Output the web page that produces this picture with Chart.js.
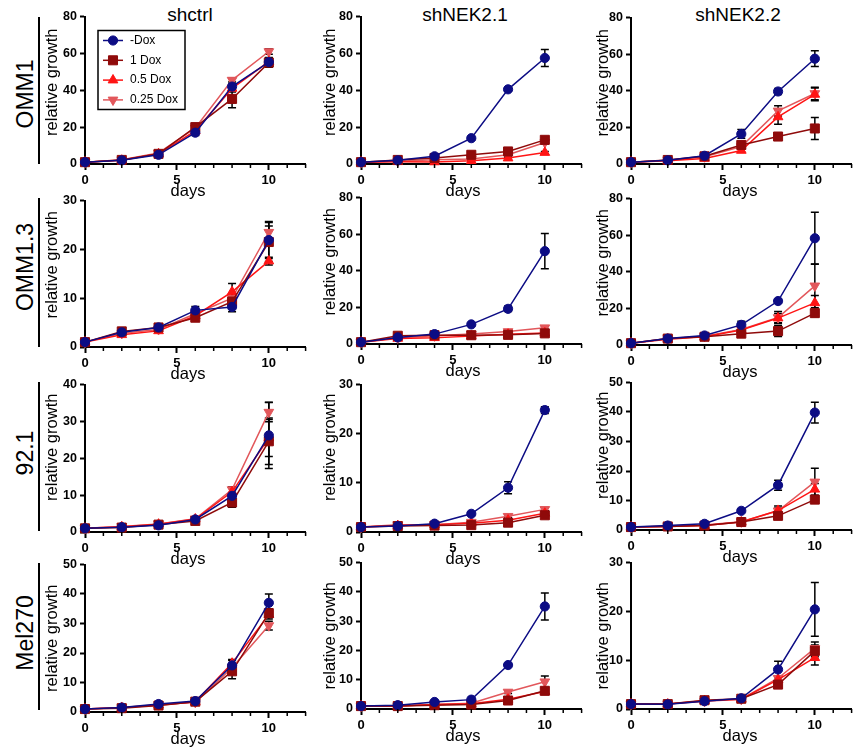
<!DOCTYPE html>
<html><head><meta charset="utf-8">
<script src="https://cdn.jsdelivr.net/npm/chart.js@4.4.0/dist/chart.umd.min.js"></script>
<style>
html,body{margin:0;padding:0;background:#fff;}
#wrap{position:relative;width:862px;height:749px;background:#fff;overflow:hidden;font-family:'Liberation Sans',Arial,sans-serif;}
canvas{position:absolute;}
.coltitle{position:absolute;font-size:19px;color:#000;transform:translateX(-50%);white-space:nowrap;line-height:1;}
.rowlabel{position:absolute;font-size:23px;color:#000;white-space:nowrap;line-height:1;transform:translate(-50%,-50%) rotate(-90deg);}
.vline{position:absolute;width:2px;background:#000;}
</style></head>
<body><div id="wrap"></div>
<script>
// ---------------- DATA ----------------
const days = [0, 2, 4, 6, 8, 10];
const seriesNames = ['-Dox', '1 Dox', '0.5 Dox', '0.25 Dox'];
const cellLines = ['OMM1', 'OMM1.3', '92.1', 'Mel270'];
const constructs = ['shctrl', 'shNEK2.1', 'shNEK2.2'];
const xTickLabels = [0, 5, 10];
const yMaxes = [[80, 80, 80], [30, 80, 80], [40, 30, 50], [50, 50, 30]];
const yStepSizes = [[20, 20, 20], [10, 20, 20], [10, 10, 10], [10, 10, 10]];

// each panel: rows = -Dox, 1 Dox, 0.5 Dox, 0.25 Dox ; columns = days
const omm1_shctrl = [
  [1, 2, 5, 17, 42, 55.3],
  [1, 2.2, 5.5, 20, 35.3, 55],
  [1, 2, 5.5, 18, 41, 55.5],
  [1, 2.3, 6, 19.5, 45.5, 61]];
const omm1_shctrl_err = [
  [0, 0.3, 0.5, 1.5, 1.5, 2.5],
  [0, 0.3, 0.5, 2, 4.8, 2.5],
  [0, 0.3, 0.5, 1.5, 2, 2],
  [0, 0.3, 0.5, 1.5, 1, 1.5]];
const omm1_shNEK21 = [
  [1, 2, 4.2, 14, 40.5, 57.5],
  [1, 2.2, 3.3, 5, 6.8, 13.1],
  [1, 1.2, 1.1, 1.8, 3.2, 6.2],
  [1, 1.5, 2.3, 2.7, 5, 11.7]];
const omm1_shNEK21_err = [
  [0, 0.2, 0.5, 0.8, 1, 4.6],
  [0, 0.2, 0.3, 0.5, 0.5, 1],
  [0, 0.1, 0.2, 0.3, 0.4, 0.6],
  [0, 0.2, 0.3, 0.4, 0.5, 0.8]];
const omm1_shNEK22 = [
  [1, 2, 4.5, 16.4, 39.6, 57.5],
  [1, 2.2, 4.2, 10.4, 15, 19.4],
  [1, 1.8, 3, 7.4, 25.7, 38],
  [1, 2, 4, 9.5, 29, 38.5]];
const omm1_shNEK22_err = [
  [0, 0.3, 0.5, 2.4, 1.6, 4.3],
  [0, 0.3, 0.5, 1, 0.8, 6],
  [0, 0.3, 0.5, 0.8, 4, 3.5],
  [0, 0.3, 0.5, 0.8, 2.8, 3.4]];

const omm13_shctrl = [
  [1, 3, 4, 7.5, 8.2, 21.9],
  [1, 3.2, 4, 6, 9.3, 21.5],
  [1, 2.5, 3.3, 6.4, 11.3, 17.6],
  [1, 2.8, 3.6, 6.8, 10, 23.5]];
const omm13_shctrl_err = [
  [0, 0.3, 0.5, 0.8, 1, 3.8],
  [0, 0.3, 0.5, 0.5, 1, 4],
  [0, 0.3, 0.3, 0.5, 1.7, 0.8],
  [0, 0.3, 0.3, 0.5, 1, 1.3]];
const omm13_shNEK21 = [
  [1, 3.6, 5.4, 10.7, 19.2, 50.7],
  [1, 4.5, 4.8, 4.8, 5, 5.8],
  [1, 3, 3.4, 4.3, 5.3, 6],
  [1, 3.4, 4.5, 5.5, 6.8, 8.9]];
const omm13_shNEK21_err = [
  [0, 0.3, 0.5, 0.8, 1.5, 9.6],
  [0, 0.3, 0.3, 0.4, 0.5, 0.6],
  [0, 0.3, 0.3, 0.4, 0.5, 0.6],
  [0, 0.3, 0.3, 0.4, 0.5, 0.8]];
const omm13_shNEK22 = [
  [1, 3.5, 5.2, 11, 24, 58.3],
  [1, 3.5, 4.5, 6.2, 7.6, 17.4],
  [1, 3.2, 4.5, 8.2, 14.7, 23],
  [1, 3.6, 4.8, 8.5, 15, 32.3]];
const omm13_shNEK22_err = [
  [0, 0.6, 0.8, 2, 1, 14.2],
  [0, 0.5, 0.5, 0.5, 3, 2],
  [0, 0.5, 0.5, 0.8, 2.5, 4],
  [0, 0.5, 0.5, 0.8, 3.3, 12]];

const c921_shctrl = [
  [1, 1.3, 1.8, 3.4, 9.8, 26.2],
  [1, 1.2, 2, 3, 8, 24.6],
  [1, 1.4, 2.1, 3.5, 10.9, 25.5],
  [1, 1.5, 2.2, 3.6, 11.5, 32.5]];
const c921_shctrl_err = [
  [0, 0.2, 0.3, 0.4, 2.2, 9],
  [0, 0.2, 0.3, 0.3, 1.3, 6.3],
  [0, 0.2, 0.3, 0.3, 1.3, 5],
  [0, 0.2, 0.3, 0.3, 0.8, 2.6]];
const c921_shNEK21 = [
  [1, 1.2, 1.7, 3.7, 9, 24.8],
  [1, 1.2, 1.3, 1.4, 1.9, 3.4],
  [1, 1.3, 1.5, 1.8, 2.4, 3.8],
  [1, 1.5, 1.5, 2, 3.2, 4.6]];
const c921_shNEK21_err = [
  [0, 0.1, 0.2, 0.3, 1.2, 0.7],
  [0, 0.1, 0.1, 0.2, 0.3, 0.6],
  [0, 0.1, 0.1, 0.2, 0.3, 0.5],
  [0, 0.1, 0.1, 0.2, 0.3, 0.4]];
const c921_shNEK22 = [
  [1, 1.5, 2.1, 6.5, 15.2, 39.8],
  [1, 1.2, 1.5, 2.7, 4.8, 10.3],
  [1, 1.2, 1.5, 2.7, 6.6, 13.8],
  [1, 1.3, 1.7, 2.8, 6.5, 16.3]];
const c921_shNEK22_err = [
  [0, 0.2, 0.3, 0.5, 1.7, 3.5],
  [0, 0.1, 0.2, 0.3, 0.5, 1.2],
  [0, 0.1, 0.2, 0.3, 1.5, 2],
  [0, 0.1, 0.2, 0.3, 1, 4.6]];

const mel270_shctrl = [
  [1, 1.5, 2.7, 3.7, 15.8, 37],
  [1, 1.3, 2.2, 3.5, 13.8, 33.5],
  [1, 1.5, 2.3, 3.5, 16.5, 33],
  [1, 1.5, 2.5, 3.3, 15, 29.3]];
const mel270_shctrl_err = [
  [0, 0.2, 0.3, 0.3, 2, 3],
  [0, 0.2, 0.3, 0.3, 2.5, 1.5],
  [0, 0.2, 0.3, 0.3, 1, 1.5],
  [0, 0.2, 0.3, 0.3, 1, 1.5]];
const mel270_shNEK21 = [
  [1, 1.3, 2.4, 3.2, 15, 35],
  [1, 1, 1.3, 1.5, 2.9, 6.2],
  [1, 1, 1.5, 1.8, 3.3, 6],
  [1, 1, 1.5, 2, 5.8, 9.3]];
const mel270_shNEK21_err = [
  [0, 0.2, 0.3, 0.3, 0.5, 4.6],
  [0, 0.1, 0.1, 0.2, 0.3, 1],
  [0, 0.1, 0.1, 0.2, 0.3, 0.8],
  [0, 0.1, 0.1, 0.2, 0.5, 2]];
const mel270_shNEK22 = [
  [1, 0.95, 1.6, 2.2, 8.1, 20.4],
  [1, 1, 1.8, 2.1, 5, 11.9],
  [1, 1, 1.7, 2, 6, 10.5],
  [1, 1, 1.6, 2, 6.3, 12.4]];
const mel270_shNEK22_err = [
  [0, 0.1, 0.2, 0.2, 1.7, 5.5],
  [0, 0.1, 0.2, 0.2, 0.5, 1.2],
  [0, 0.1, 0.2, 0.2, 0.5, 1.5],
  [0, 0.1, 0.2, 0.2, 0.5, 1.3]];

const panelMeans = [
  [omm1_shctrl, omm1_shNEK21, omm1_shNEK22],
  [omm13_shctrl, omm13_shNEK21, omm13_shNEK22],
  [c921_shctrl, c921_shNEK21, c921_shNEK22],
  [mel270_shctrl, mel270_shNEK21, mel270_shNEK22]];
const panelErrs = [
  [omm1_shctrl_err, omm1_shNEK21_err, omm1_shNEK22_err],
  [omm13_shctrl_err, omm13_shNEK21_err, omm13_shNEK22_err],
  [c921_shctrl_err, c921_shNEK21_err, c921_shNEK22_err],
  [mel270_shctrl_err, mel270_shNEK21_err, mel270_shNEK22_err]];

// ---------------- STYLE / LAYOUT ----------------
const FONT = "'Liberation Sans', Arial, sans-serif";
const seriesColors = ['#0c0c84', '#8f0a0a', '#ff1414', '#e2575b'];
const pointStyles = ['circle', 'rect', 'triangle', 'triangle'];
const pointRadii = [4.6, 6.4, 5.6, 5.6];
const pointRotations = [0, 0, 0, 180];

const colAxisX = [85, 361, 631];
const plotTop = [[16, 16, 17], [200, 197, 198], [384, 384, 382], [564, 562, 562]];
const plotBottom = [[164, 164, 164], [347, 344, 345], [532, 532, 530], [712, 709, 709]];
const yTitleDx = [33, 31, 28];
const yTitleDy = [-8, -9, -11, 0];
const xTitleDx = [103, 102, 109];
const colTitleX = [190, 465, 738];
const rowLabelY = [93.5, 266.5, 452.5, 632.5];
const rowLineSpan = [[17, 164], [198, 347], [382, 531], [563, 710]];

Chart.defaults.color = '#000';
Chart.defaults.font.family = FONT;

const wrap = document.getElementById('wrap');

constructs.forEach((t, c) => {
  const d = document.createElement('div');
  d.className = 'coltitle';
  d.textContent = t;
  d.style.left = colTitleX[c] + 'px';
  d.style.top = '5px';
  wrap.appendChild(d);
});
cellLines.forEach((t, r) => {
  const d = document.createElement('div');
  d.className = 'rowlabel';
  d.textContent = t;
  d.style.left = '25px';
  d.style.top = rowLabelY[r] + 'px';
  wrap.appendChild(d);
  const l = document.createElement('div');
  l.className = 'vline';
  l.style.left = '38px';
  l.style.top = rowLineSpan[r][0] + 'px';
  l.style.height = (rowLineSpan[r][1] - rowLineSpan[r][0]) + 'px';
  wrap.appendChild(l);
});

const errorBarPlugin = {
  id: 'errorBars',
  beforeDatasetsDraw(chart) {
    const ctx = chart.ctx, ys = chart.scales.y;
    ctx.save();
    ctx.strokeStyle = '#000';
    ctx.lineWidth = 1.5;
    chart.data.datasets.forEach((ds, i) => {
      const meta = chart.getDatasetMeta(i);
      ds.errors.forEach((e, j) => {
        if (!e) return;
        const pt = meta.data[j];
        const v = ds.data[j].y;
        const y1 = ys.getPixelForValue(v + e);
        const y2 = ys.getPixelForValue(Math.max(0, v - e));
        const x = pt.x;
        ctx.beginPath();
        ctx.moveTo(x, y1); ctx.lineTo(x, y2);
        ctx.moveTo(x - 4, y1); ctx.lineTo(x + 4, y1);
        ctx.moveTo(x - 4, y2); ctx.lineTo(x + 4, y2);
        ctx.stroke();
      });
    });
    ctx.restore();
  }
};

const minorTickPlugin = {
  id: 'minorTicks',
  afterDraw(chart) {
    const xs = chart.scales.x, a = chart.chartArea, ctx = chart.ctx;
    ctx.save();
    ctx.strokeStyle = '#000';
    ctx.lineWidth = 1.5;
    for (let v = xs.min; v <= xs.max; v++) {
      if (xTickLabels.includes(v)) continue;
      const px = xs.getPixelForValue(v);
      ctx.beginPath();
      ctx.moveTo(px, a.bottom);
      ctx.lineTo(px, a.bottom + 4);
      ctx.stroke();
    }
    ctx.restore();
  }
};

function axisTitlePlugin(r, c) {
  return {
    id: 'axisTitles',
    afterDraw(chart) {
      const {ctx, chartArea: a} = chart;
      ctx.save();
      ctx.fillStyle = '#000';
      ctx.font = '16.5px ' + FONT;
      ctx.textAlign = 'center';
      ctx.textBaseline = 'middle';
      ctx.fillText('days', a.left + xTitleDx[c], a.bottom + 27);
      ctx.translate(a.left - yTitleDx[c], (a.top + a.bottom) / 2 + yTitleDy[r]);
      ctx.rotate(-Math.PI / 2);
      ctx.fillText('relative growth', 0, 0);
      ctx.restore();
    }
  };
}

const legendPlugin = {
  id: 'boxLegend',
  afterDatasetsDraw(chart) {
    const {ctx, chartArea: a} = chart;
    const bx = a.left + 13, by = a.top + 14, bw = 87, bh = 79;
    ctx.save();
    ctx.fillStyle = '#fff';
    ctx.fillRect(bx, by, bw, bh);
    ctx.lineWidth = 1.5;
    ctx.strokeStyle = '#000';
    ctx.strokeRect(bx, by, bw, bh);
    chart.data.datasets.forEach((ds, i) => {
      const y = by + 10 + i * 19.8;
      ctx.strokeStyle = ds.borderColor;
      ctx.lineWidth = 1.5;
      ctx.beginPath();
      ctx.moveTo(bx + 5, y); ctx.lineTo(bx + 25, y);
      ctx.stroke();
      ctx.fillStyle = ds.backgroundColor;
      ctx.lineWidth = 1;
      Chart.helpers.drawPoint(ctx, {pointStyle: ds.pointStyle, radius: ds.pointRadius, rotation: ds.pointRotation, borderWidth: 1}, bx + 15, y);
      ctx.fillStyle = '#000';
      ctx.font = '12px ' + FONT;
      ctx.textAlign = 'left';
      ctx.textBaseline = 'middle';
      ctx.fillText(ds.label, bx + 32, y);
    });
    ctx.restore();
  }
};

function makeChart(r, c) {
  const W = 48, H = 40, PT = 10, PR = 6, plotW = 222;
  const L = colAxisX[c], T = plotTop[r][c], B = plotBottom[r][c];
  const cv = document.createElement('canvas');
  cv.width = W + plotW + PR;
  cv.height = PT + (B - T) + H;
  cv.style.left = (L - W) + 'px';
  cv.style.top = (T - PT) + 'px';
  wrap.appendChild(cv);
  const means = panelMeans[r][c], errs = panelErrs[r][c];
  const datasets = seriesNames.map((name, i) => ({
    label: name,
    data: days.map((d, j) => ({x: d, y: means[i][j]})),
    errors: errs[i],
    borderColor: seriesColors[i],
    backgroundColor: seriesColors[i],
    pointBackgroundColor: seriesColors[i],
    pointBorderColor: seriesColors[i],
    pointStyle: pointStyles[i],
    pointRadius: pointRadii[i],
    pointRotation: pointRotations[i],
    borderWidth: 1.5,
    pointBorderWidth: 1,
    tension: 0,
    clip: false
  }));
  const plugins = [errorBarPlugin, minorTickPlugin, axisTitlePlugin(r, c)];
  if (r === 0 && c === 0) plugins.push(legendPlugin);
  new Chart(cv, {
    type: 'line',
    data: {datasets},
    options: {
      responsive: false,
      animation: false,
      devicePixelRatio: 1,
      events: [],
      layout: {padding: {top: PT, right: PR, left: 0, bottom: 0}},
      plugins: {legend: {display: false}, tooltip: {enabled: false}, title: {display: false}},
      scales: {
        x: {
          type: 'linear', min: 0, max: 12,
          afterFit: s => { s.height = H; },
          ticks: {
            stepSize: 1, autoSkip: false, maxRotation: 0, minRotation: 0, color: '#000', padding: 3,
            font: {family: FONT, size: 13, weight: 'bold'},
            callback: v => xTickLabels.includes(v) ? String(v) : ''
          },
          grid: {
            drawOnChartArea: false, drawTicks: true, tickLength: 6, tickWidth: 2,
            tickColor: ctx => (ctx.tick && xTickLabels.includes(ctx.tick.value)) ? '#000' : 'rgba(0,0,0,0)'
          },
          border: {display: true, color: '#000', width: 2}
        },
        y: {
          type: 'linear', min: 0, max: yMaxes[r][c],
          afterFit: s => { s.width = W; },
          ticks: {
            stepSize: yStepSizes[r][c], color: '#000', padding: 3,
            font: {family: FONT, size: 12.5, weight: 'bold'}
          },
          grid: {drawOnChartArea: false, drawTicks: true, tickLength: 5, tickWidth: 2, tickColor: '#000'},
          border: {display: true, color: '#000', width: 2}
        }
      }
    },
    plugins
  });
}

for (let r = 0; r < 4; r++) for (let c = 0; c < 3; c++) makeChart(r, c);
</script>
</body></html>
